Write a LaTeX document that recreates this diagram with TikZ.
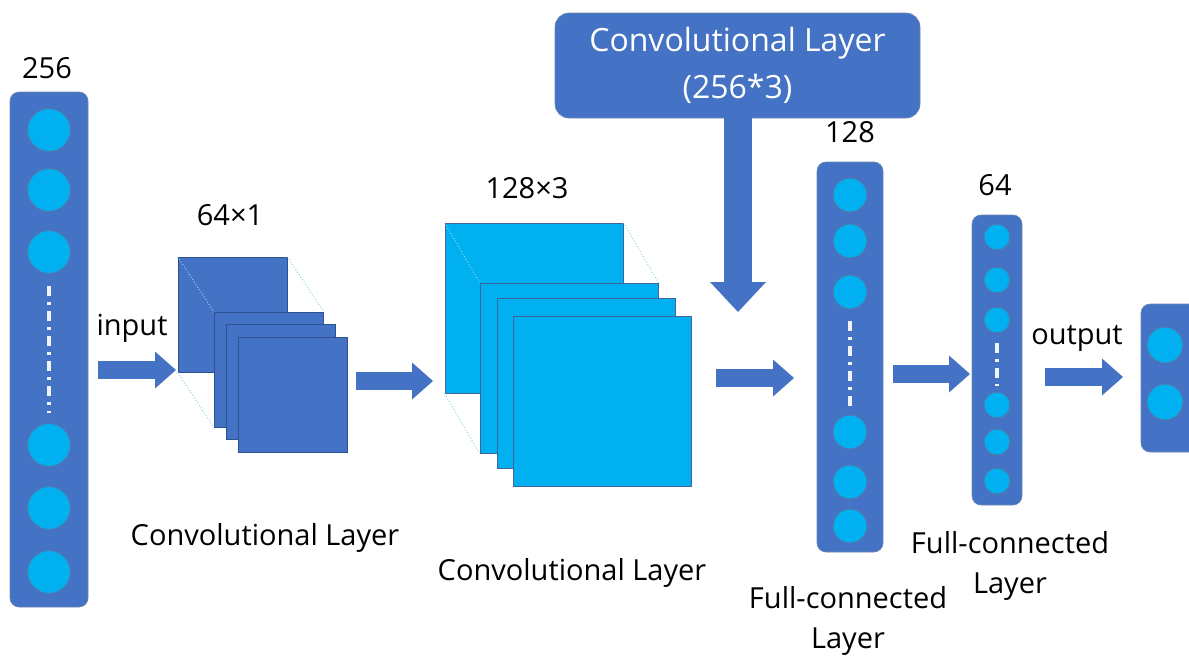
\documentclass[tikz,border=0pt]{standalone}
\usepackage{fontspec}
\setmainfont{Open Sans}
\usetikzlibrary{arrows.meta}
\definecolor{layerblue}{HTML}{4472C4}
\definecolor{cellblue}{HTML}{00B0F0}
\definecolor{edgeblue}{HTML}{2F528F}
\definecolor{guideblue}{HTML}{8FD3F2}

\tikzset{
  column/.style={rectangle, rounded corners=9pt, fill=layerblue, draw=edgeblue!70, line width=0.6pt},
  unit/.style={circle, fill=cellblue, draw=edgeblue!80, line width=0.8pt, inner sep=0pt},
  sheet/.style={rectangle, fill=layerblue, draw=edgeblue, line width=0.8pt},
  lightsheet/.style={rectangle, fill=cellblue, draw=edgeblue!90, line width=0.8pt},
  guide/.style={guideblue, line width=1pt, dotted},
  dotline/.style={white!92!layerblue, line width=3.2pt, dash pattern=on 10pt off 6pt on 3pt off 6pt},
  flow/.style={draw=layerblue, line width=18pt, -{Triangle[length=21pt, width=37pt, line width=0pt]}},
  flowdown/.style={draw=layerblue, line width=28pt, -{Triangle[length=30pt, width=56pt, line width=0pt]}},
  lbl/.style={font=\fontsize{29}{40}\selectfont, align=center, inner sep=0pt},
  topbox/.style={rectangle, rounded corners=14pt, fill=layerblue, draw=edgeblue!70, line width=0.6pt,
    text=white, font=\fontsize{32}{47}\selectfont, align=center}
}

\begin{document}
\begin{tikzpicture}[x=1pt, y=-1pt]
  \clip (0,0) rectangle (1189,659);

  % input layer, 256 units
  \node[column, minimum width=78pt, minimum height=515pt] (in) at (49,349.5) {};
  \foreach \y [count=\i] in {130,190,252,445,508,572}
    \node[unit, minimum size=43pt] (in\i) at (49,\y) {};
  \draw[dotline] ([yshift=-12pt]in3.south) -- ([yshift=10pt]in4.north);
  \node[lbl] (inN) at (47,68) {256};
  \node[lbl] (inT) at (132,328) {input};

  \coordinate (a1s) at (98,370);
  \coordinate (a1e) at (176,370);
  \draw[flow] (a1s) -- (a1e);

  % first convolution, 64x1
  \node[sheet, minimum width=109pt, minimum height=115pt] (c1a) at (232.5,314.5) {};
  \node[sheet, minimum width=109pt, minimum height=115pt, draw=none, fill=none] (c1g) at (269,370) {};
  \draw[guide] (c1a.north east) -- (c1g.north east);
  \draw[guide] (c1a.south west) -- (c1g.south west);
  \draw[guide] (c1a.north west) -- (c1g.north west);
  \node[sheet, minimum width=109pt, minimum height=115pt] (c1b) at (269,370) {};
  \node[sheet, minimum width=109pt, minimum height=115pt] (c1c) at (281,381.5) {};
  \node[sheet, minimum width=109pt, minimum height=115pt] (c1d) at (292.5,395) {};
  \node[lbl] (c1N) at (230,215) {64×1};
  \node[lbl] (c1T) at (265,538) {Convolutional Layer};

  \coordinate (a2s) at (356,381);
  \coordinate (a2e) at (433,381);
  \draw[flow] (a2s) -- (a2e);

  % second convolution, 128x3
  \node[lightsheet, minimum width=178pt, minimum height=170pt] (c2a) at (534,308) {};
  \node[lightsheet, minimum width=178pt, minimum height=170pt, draw=none, fill=none] (c2g) at (569,368) {};
  \draw[guide] (c2a.north east) -- (c2g.north east);
  \draw[guide] (c2a.south west) -- (c2g.south west);
  \draw[guide] (c2a.north west) -- (c2g.north west);
  \node[lightsheet, minimum width=178pt, minimum height=170pt] (c2b) at (569,368) {};
  \node[lightsheet, minimum width=178pt, minimum height=170pt] (c2c) at (586,383) {};
  \node[lightsheet, minimum width=178pt, minimum height=170pt] (c2d) at (602.5,401) {};
  \node[lbl] (c2N) at (527,188) {128×3};
  \node[lbl] (c2T) at (572,573) {Convolutional Layer};

  % side convolution feeding in from above
  \node[topbox, minimum width=365pt, minimum height=105pt] (c3) at (737.5,65.5) {Convolutional Layer\\(256*3)};
  \coordinate (c3e) at (738,312);
  \draw[flowdown] (c3.south -| c3e) ++(0,-4) -- (c3e);

  \coordinate (a3s) at (716,378);
  \coordinate (a3e) at (794,378);
  \draw[flow] (a3s) -- (a3e);

  % full-connected layer, 128 units
  \node[column, minimum width=66pt, minimum height=390pt] (f1) at (850,357) {};
  \foreach \y [count=\i] in {195,241,292,432,482,526}
    \node[unit, minimum size=34pt] (f1\i) at (850,\y) {};
  \draw[dotline] ([yshift=-12pt]f13.south) -- ([yshift=8pt]f14.north);
  \node[lbl] (f1N) at (850,132) {128};
  \node[lbl] (f1T) at (848,621) {Full-connected\\Layer};

  \coordinate (a4s) at (893,374);
  \coordinate (a4e) at (970,374);
  \draw[flow] (a4s) -- (a4e);

  % full-connected layer, 64 units
  \node[column, minimum width=50pt, minimum height=290pt] (f2) at (997,360) {};
  \foreach \y [count=\i] in {237,280,320,405,442,481}
    \node[unit, minimum size=26pt] (f2\i) at (997,\y) {};
  \draw[dotline] ([yshift=-10pt]f23.south) -- ([yshift=6pt]f24.north);
  \node[lbl] (f2N) at (995,185) {64};
  \node[lbl] (f2T) at (1010,566) {Full-connected\\Layer};

  \node[lbl] (outT) at (1077,338) {output};
  \coordinate (a5s) at (1045,377);
  \coordinate (a5e) at (1123,377);
  \draw[flow] (a5s) -- (a5e);

  % output layer
  \node[column, minimum width=60pt, minimum height=148pt] (out) at (1171,378) {};
  \node[unit, minimum size=36pt] (out1) at (1165,345) {};
  \node[unit, minimum size=36pt] (out2) at (1165,402) {};
\end{tikzpicture}
\end{document}
